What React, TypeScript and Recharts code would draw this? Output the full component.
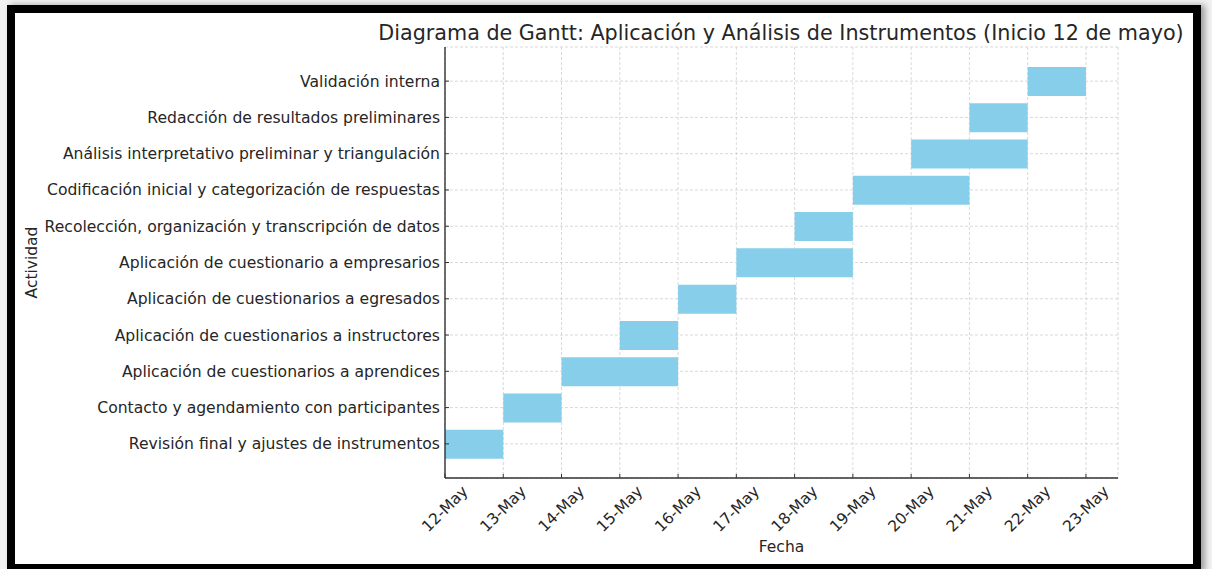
import { Bar, BarChart, CartesianGrid, XAxis, YAxis } from "recharts"

// activities listed top to bottom as they appear on the chart
const activities = [
  "Validación interna",
  "Redacción de resultados preliminares",
  "Análisis interpretativo preliminar y triangulación",
  "Codificación inicial y categorización de respuestas",
  "Recolección, organización y transcripción de datos",
  "Aplicación de cuestionario a empresarios",
  "Aplicación de cuestionarios a egresados",
  "Aplicación de cuestionarios a instructores",
  "Aplicación de cuestionarios a aprendices",
  "Contacto y agendamiento con participantes",
  "Revisión final y ajustes de instrumentos",
]

// days after 12 May
const startDay = [10, 9, 8, 7, 6, 5, 4, 3, 2, 1, 0]
const durationDays = [1, 1, 2, 2, 1, 2, 1, 1, 2, 1, 1]

const dateLabels = [
  "12-May",
  "13-May",
  "14-May",
  "15-May",
  "16-May",
  "17-May",
  "18-May",
  "19-May",
  "20-May",
  "21-May",
  "22-May",
  "23-May",
]

const data = activities.map((activity, i) => ({
  activity,
  start: startDay[i],
  duration: durationDays[i],
}))

const FONT = "'DejaVu Sans', sans-serif"
const TEXT = "#262626"

const DateTick = ({ x, y, payload }: any) => {
  const cy = y + 31
  return (
    <text
      x={x}
      y={cy}
      transform={`rotate(-45 ${x} ${cy})`}
      textAnchor="middle"
      dominantBaseline="central"
      fontFamily={FONT}
      fontSize={15.5}
      fill={TEXT}
    >
      {dateLabels[payload.value]}
    </text>
  )
}

export default function App() {
  return (
    <div
      style={{
        position: "absolute",
        left: 0,
        top: 0,
        width: 1212,
        height: 569,
        overflow: "hidden",
        background: "#f1f1f1",
      }}
    >
      <div
        style={{
          position: "absolute",
          left: 7,
          top: 5,
          width: 1194,
          height: 567,
          boxSizing: "border-box",
          border: "8px solid #000",
          background: "#fff",
          boxShadow: "4px 0 6px rgba(0,0,0,0.35)",
        }}
      />
      <div style={{ position: "absolute", left: 0, top: 0 }}>
        <BarChart
          width={1212}
          height={569}
          data={data}
          layout="vertical"
          margin={{ top: 47, right: 94, bottom: 31, left: 0 }}
          barSize={29}
        >
          <text
            x={781}
            y={33}
            textAnchor="middle"
            dominantBaseline="central"
            fontFamily={FONT}
            fontSize={20.7}
            fill={TEXT}
          >
            Diagrama de Gantt: Aplicación y Análisis de Instrumentos (Inicio 12 de mayo)
          </text>
          <CartesianGrid stroke="#cfcfcf" strokeDasharray="3 2" strokeWidth={0.8} />
          <XAxis
            type="number"
            dataKey="start"
            domain={[0, 11.55]}
            ticks={dateLabels.map((_, i) => i)}
            allowDataOverflow
            height={60}
            tickSize={-4}
            tickMargin={4}
            tick={<DateTick />}
            axisLine={{ stroke: "#333", strokeWidth: 1.4 }}
            tickLine={{ stroke: "#333" }}
            label={{
              value: "Fecha",
              position: "insideBottom",
              offset: -14,
              fontFamily: FONT,
              fontSize: 15.5,
              fill: TEXT,
            }}
          />
          <YAxis
            type="category"
            dataKey="activity"
            width={445}
            padding={{ top: 16, bottom: 16 }}
            tickSize={-4}
            tickMargin={9}
            tick={{ fontFamily: FONT, fontSize: 15.6, fill: TEXT }}
            axisLine={{ stroke: "#333", strokeWidth: 1.4 }}
            tickLine={{ stroke: "#333" }}
            interval={0}
            label={{
              value: "Actividad",
              angle: -90,
              position: "insideLeft",
              offset: 31,
              fontFamily: FONT,
              fontSize: 15.5,
              fill: TEXT,
              style: { textAnchor: "middle" },
            }}
          />
          <Bar dataKey="start" stackId="gantt" fill="transparent" isAnimationActive={false} />
          <Bar dataKey="duration" stackId="gantt" fill="#87ceeb" isAnimationActive={false} />
        </BarChart>
      </div>
    </div>
  )
}
